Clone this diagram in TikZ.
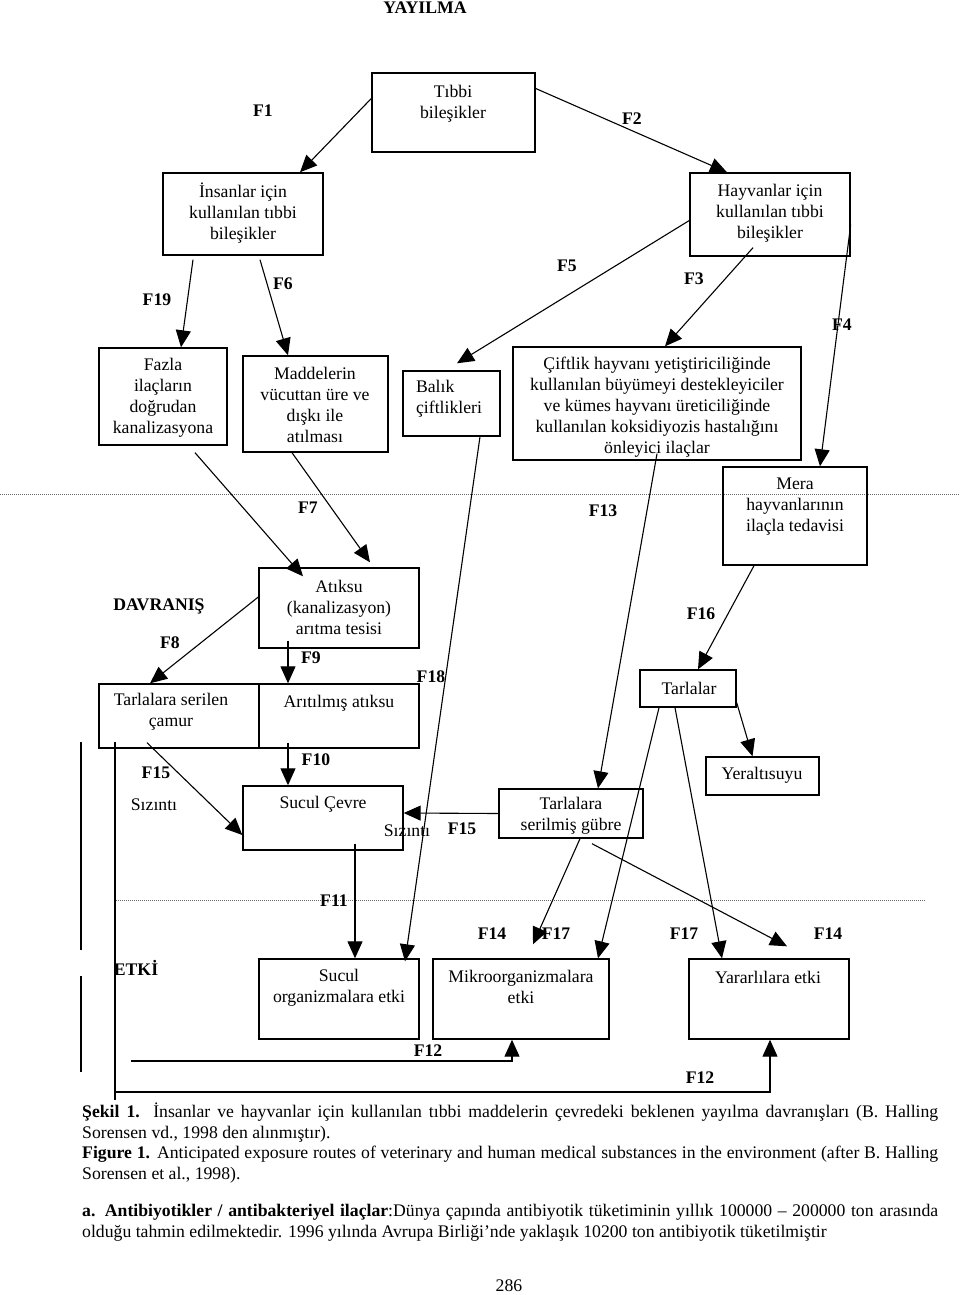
\documentclass[tikz,border=0pt]{standalone}
\usepackage{fontspec}
\setmainfont{Liberation Serif}
\usetikzlibrary{arrows.meta, calc, fit}
\newcommand{\yazi}{\fontsize{17.7pt}{21pt}\selectfont}
\tikzset{>={Triangle[length=17pt,width=15pt]}}
\tikzset{every node/.style={inner sep=0pt, font=\yazi},
  kutu/.style={draw, line width=1.4pt, inner sep=0pt},
  etiket/.style={font=\yazi\bfseries},
  ok/.style={->, line width=1.1pt},
  nokta/.style={densely dotted, line width=1pt, black!60}}

\begin{document}
\begin{tikzpicture}[x=1pt, y=-1pt]
\useasboundingbox (0,0) rectangle (960,1295);

\node[etiket] (baslik) at (425,8) {YAYILMA};

\draw[nokta] (0,494) -- (960,494);
\draw[nokta] (116,900) -- (925,900);

\node[kutu, fit={(372,73) (535,152)}] (tibbi) {};
\node[kutu, fit={(163,173) (323,255)}] (insan) {};
\node[kutu, fit={(690,173) (850,256)}] (hayvan) {};
\node[kutu, fit={(99,348) (227,445)}] (fazla) {};
\node[kutu, fit={(243,356) (388,452)}] (madde) {};
\node[kutu, fit={(403,371) (500,436)}] (balik) {};
\node[kutu, fit={(513,347) (801,460)}] (ciftlik) {};
\node[kutu, fit={(723,467) (867,565)}] (mera) {};
\node[kutu, fit={(259,568) (419,648)}] (atiksu) {};
\node[kutu, fit={(99,684) (259,748)}] (camur) {};
\node[kutu, fit={(259,684) (419,748)}] (aritil) {};
\node[kutu, fit={(640,670) (736,707)}] (tarlalar) {};
\node[kutu, fit={(706,757) (819,795)}] (yeralti) {};
\node[kutu, fit={(499,789) (643,838)}] (gubre) {};
\node[kutu, fit={(243,786) (403,850)}] (sucul) {};
\node[kutu, fit={(259,959) (419,1039)}] (sucorg) {};
\node[kutu, fit={(433,959) (609,1039)}] (mikro) {};
\node[kutu, fit={(689,959) (849,1039)}] (yarar) {};

\node[align=center] (t-tibbi) at (453,104) {Tıbbi\\bileşikler};
\node[align=center] (t-insan) at (243,213) {İnsanlar için\\kullanılan tıbbi\\bileşikler};
\node[align=center] (t-hayvan) at (770,213) {Hayvanlar için\\kullanılan tıbbi\\bileşikler};
\node[align=center] (t-fazla) at (163,398) {Fazla\\ilaçların\\doğrudan\\kanalizasyona};
\node[align=center] (t-madde) at (315,405) {Maddelerin\\vücuttan üre ve\\dışkı ile\\atılması};
\node[align=left] (t-balik) at (449,399) {Balık\\çiftlikleri};
\node[align=center] (t-ciftlik) at (657,407) {Çiftlik hayvanı yetiştiriciliğinde\\kullanılan büyümeyi destekleyiciler\\ve kümes hayvanı üreticiliğinde\\kullanılan koksidiyozis hastalığını\\önleyici ilaçlar};
\node[align=center] (t-mera) at (795,507) {Mera\\hayvanlarının\\ilaçla tedavisi};
\node[align=center] (t-atiksu) at (339,607) {Atıksu\\(kanalizasyon)\\arıtma tesisi};
\node[align=center] (t-camur) at (171,712) {Tarlalara serilen\\çamur};
\node (t-aritil) at (339,703) {Arıtılmış atıksu};
\node (t-tarlalar) at (689,688) {Tarlalar};
\node (t-yeralti) at (762,775) {Yeraltısuyu};
\node[align=center] (t-gubre) at (571,816) {Tarlalara\\serilmiş gübre};
\node (t-sucul) at (323,804) {Sucul Çevre};
\node[align=center] (t-sucorg) at (339,988) {Sucul\\organizmalara etki};
\node[align=center] (t-mikro) at (521,987) {Mikroorganizmalara\\etki};
\node (t-yarar) at (768,977) {Yararlılara etki};

\draw[ok] ([yshift=14pt]tibbi.west) -- ([xshift=57pt]insan.north);
\draw[ok] ([yshift=24pt]tibbi.east) -- ([xshift=-43pt]hayvan.north);
\draw[ok] ([xshift=-50pt,yshift=-4pt]insan.south) -- ([xshift=18pt]fazla.north);
\draw[ok] ([xshift=17pt,yshift=-4pt]insan.south) -- ([xshift=-27.5pt]madde.north);
\draw[ok] ([yshift=-6pt]hayvan.west) -- ([xshift=5.5pt,yshift=7pt]balik.north);
\draw[ok] ([xshift=-17pt,yshift=9pt]hayvan.south) -- ([xshift=8pt]ciftlik.north);
\draw[ok] ([yshift=-10pt]hayvan.east) -- ([xshift=25pt]mera.north);
\draw[ok] ([xshift=32pt,yshift=-7pt]fazla.south) -- ([xshift=-36pt,yshift=-9pt]atiksu.north);
\draw[ok] ([xshift=-23.5pt]madde.south) -- ([xshift=31pt,yshift=5pt]atiksu.north);
\draw[ok] ([xshift=28.5pt]balik.south) -- ([xshift=66pt,yshift=-3pt]sucorg.north);
\draw[ok] ([yshift=7pt]ciftlik.south) -- ([xshift=27pt]gubre.north);
\draw[ok] ([xshift=-41pt]mera.south) -- ([xshift=10pt]tarlalar.north);
\draw[ok] ([yshift=5pt]tarlalar.south east) -- ([xshift=-10pt]yeralti.north);
\draw[ok] ([yshift=11pt]atiksu.west) -- ([xshift=-29pt]camur.north);
\draw[ok] ([xshift=-51pt,yshift=8pt]atiksu.south) -- ([xshift=-51pt]aritil.north);
\draw[ok] ([xshift=-51pt,yshift=6pt]aritil.south) -- ([xshift=-35pt]sucul.north);
\draw[ok] ([xshift=-32pt,yshift=6pt]camur.south) -- ([yshift=-17pt]sucul.west);
\draw[ok] (gubre.west) -- ([yshift=5pt]sucul.east);
\draw[ok] ([xshift=32pt,yshift=7pt]sucul.south) -- ([xshift=16pt]sucorg.north);
\draw[ok] ([xshift=-29pt]tarlalar.south) -- ([xshift=77pt]mikro.north);
\draw[ok] ([xshift=-13pt]tarlalar.south) -- ([xshift=-47pt]yarar.north);
\draw[ok] ([xshift=9pt]gubre.south) -- ([xshift=12pt,yshift=14pt]mikro.north);
\draw[ok] ([xshift=21pt,yshift=-5pt]gubre.south) -- ([xshift=18pt,yshift=12pt]yarar.north);

\coordinate (f12a) at (131,1061);
\coordinate (f12b) at (115,1092);
\draw[ok] (f12a) -| ([xshift=-9pt]mikro.south);
\draw[ok] (f12b) -| ([xshift=1pt]yarar.south);

\draw[line width=2.2pt] (81,742) -- (81,950);
\draw[line width=2.2pt] (81,976) -- (81,1072);
\draw[line width=1.2pt] (115,742) -- (115,1100);

\node[etiket] (f1) at (263,111) {F1};
\node[etiket] (f2) at (632,119) {F2};
\node[etiket] (f19) at (157,300) {F19};
\node[etiket] (f6) at (283,284) {F6};
\node[etiket] (f5) at (567,266) {F5};
\node[etiket] (f3) at (694,279) {F3};
\node[etiket] (f4) at (842,325) {F4};
\node[etiket] (f7) at (308,508) {F7};
\node[etiket] (f13) at (603,511) {F13};
\node[etiket] (davranis) at (159,606) {DAVRANIŞ};
\node[etiket] (f8) at (170,643) {F8};
\node[etiket] (f9) at (311,658) {F9};
\node[etiket] (f18) at (431,677) {F18};
\node[etiket] (f16) at (701,614) {F16};
\node[etiket] (f10) at (316,760) {F10};
\node[etiket] (f15a) at (156,773) {F15};
\node (sizinti-a) at (154,805) {Sızıntı};
\node (sizinti-b) at (407,831) {Sızıntı};
\node[etiket] (f15b) at (462,829) {F15};
\node[etiket] (f11) at (334,901) {F11};
\node[etiket] (etki) at (136,968) {ETKİ};
\node[etiket] (f14a) at (492,934) {F14};
\node[etiket] (f17a) at (556,934) {F17};
\node[etiket] (f17b) at (684,934) {F17};
\node[etiket] (f14b) at (828,934) {F14};
\node[etiket] (f12-1) at (428,1051) {F12};
\node[etiket] (f12-2) at (700,1078) {F12};

\node[anchor=base west] (sekil) at (82,1117) {\makebox[856pt][s]{\textbf{Şekil 1.} İnsanlar ve hayvanlar için kullanılan tıbbi maddelerin çevredeki beklenen yayılma davranışları (B. Halling}};
\node[anchor=base west] (sekil2) at (82,1138) {Sorensen vd., 1998 den alınmıştır).};
\node[anchor=base west] (figure) at (82,1158) {\makebox[856pt][s]{\textbf{Figure 1.} Anticipated exposure routes of veterinary and human medical substances in the environment (after B. Halling}};
\node[anchor=base west] (figure2) at (82,1179) {Sorensen et al., 1998).};
\node[anchor=base west] (para1) at (82,1216) {\makebox[856pt][s]{\textbf{a. Antibiyotikler / antibakteriyel ilaçlar}:Dünya çapında antibiyotik tüketiminin yıllık 100000 – 200000 ton arasında}};
\node[anchor=base west] (para2) at (82,1237) {olduğu tahmin edilmektedir. 1996 yılında Avrupa Birliği’nde yaklaşık 10200 ton antibiyotik tüketilmiştir};
\node[anchor=base] (sayfa) at (509,1291) {286};
\end{tikzpicture}
\end{document}
